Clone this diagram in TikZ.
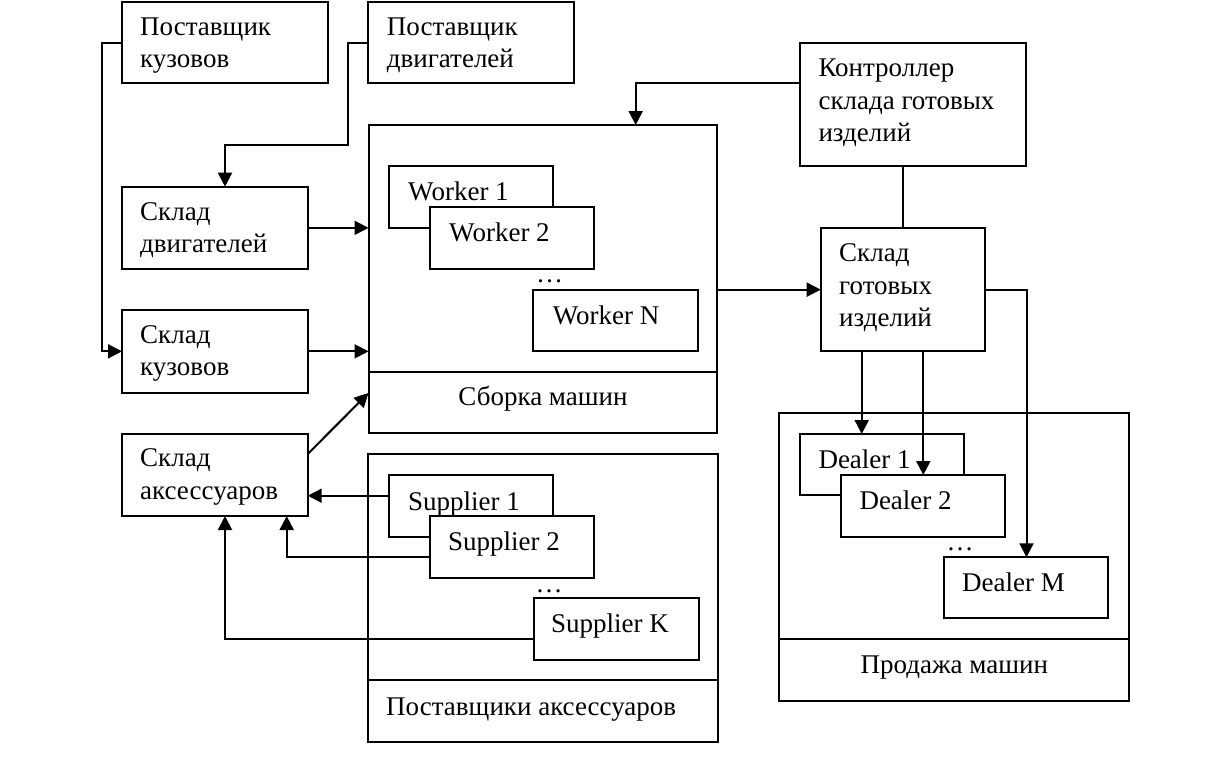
\documentclass[tikz,border=0pt]{standalone}
\usepackage{fontspec}
\setmainfont{Liberation Serif}
\usetikzlibrary{arrows.meta,calc}
\newcommand{\ml}[1]{\begin{tabular}[t]{@{}l@{}}#1\end{tabular}}
\begin{document}
\begin{tikzpicture}[x=1pt,y=-1pt,
  box/.style={draw,line width=2pt,fill=white,inner sep=0pt,outer sep=0pt,anchor=north west},
  lbl/.style={anchor=base west,inner sep=0pt,font=\fontsize{27}{32.5}\selectfont},
  clbl/.style={anchor=base,inner sep=0pt,font=\fontsize{27}{32.5}\selectfont},
  arr/.style={line width=2pt,-{Triangle[length=14pt,width=14pt]}},
  ln/.style={line width=2pt}]
\useasboundingbox[fill=white] (0,0) rectangle (1230,772);

% outer boxes
\node[box,minimum width=206,minimum height=81.6] (pk) at (122,1.7) {};
\node[box,minimum width=206,minimum height=81.6] (pd) at (368,1.7) {};
\node[box,minimum width=226,minimum height=123.3] (kc) at (800,42.7) {};
\node[box,minimum width=185.7,minimum height=82.3] (sd) at (122,186.7) {};
\node[box,minimum width=185.7,minimum height=82.7] (sk) at (122,310) {};
\node[box,minimum width=185.7,minimum height=82] (sa) at (122,434) {};
\node[box,minimum width=164.3,minimum height=122.7] (sg) at (820.7,228.3) {};

% containers
\node[box,minimum width=348.8,minimum height=308.3] (sb) at (368.5,125) {};
\draw[ln] ($(sb.south west)+(0,-61.6)$) -- ($(sb.south east)+(0,-61.6)$);
\node[box,minimum width=349.7,minimum height=288] (pa) at (368.3,454) {};
\draw[ln] ($(pa.south west)+(0,-62)$) -- ($(pa.south east)+(0,-62)$);
\node[box,minimum width=350,minimum height=287.7] (ps) at (779.3,413.3) {};
\draw[ln] ($(ps.south west)+(0,-61.7)$) -- ($(ps.south east)+(0,-61.7)$);

% inner boxes
\node[box,minimum width=164.3,minimum height=61.7] (w1) at (389,166) {};
\node[box,minimum width=164.3,minimum height=61.7] (w2) at (430,207.3) {};
\node[box,minimum width=165.3,minimum height=61] (wn) at (532.7,290) {};
\node[box,minimum width=164.3,minimum height=61.7] (s1) at (389,475) {};
\node[box,minimum width=164.3,minimum height=61.7] (s2) at (430,516) {};
\node[box,minimum width=165,minimum height=61.7] (sK) at (533.5,598.3) {};
\node[box,minimum width=164.3,minimum height=61.3] (d1) at (800,434) {};
\node[box,minimum width=164,minimum height=61.7] (d2) at (841,475) {};
\node[box,minimum width=164.6,minimum height=61] (dm) at (943.7,557.3) {};

% texts
\node[lbl] (tpk) at (140,35) {\ml{Поставщик\\кузовов}};
\node[lbl] (tpd) at (386.7,35) {\ml{Поставщик\\двигателей}};
\node[lbl] (tkc) at (818.3,76.7) {\ml{Контроллер\\склада готовых\\изделий}};
\node[lbl] (tsd) at (140,220) {\ml{Склад\\двигателей}};
\node[lbl] (tsk) at (140,343.3) {\ml{Склад\\кузовов}};
\node[lbl] (tsa) at (140,466.7) {\ml{Склад\\аксессуаров}};
\node[lbl] (tsg) at (839,261.7) {\ml{Склад\\готовых\\изделий}};
\node[lbl] (tw1) at (408,200) {Worker 1};
\node[lbl] (tw2) at (449,241.7) {Worker 2};
\node[lbl] (twn) at (552.7,324) {Worker N};
\node[lbl] (ts1) at (408,510) {Supplier 1};
\node[lbl] (ts2) at (448,550) {Supplier 2};
\node[lbl] (tsK) at (551,632) {Supplier K};
\node[lbl] (td1) at (818.3,468) {Dealer 1};
\node[lbl] (td2) at (859.3,509.3) {Dealer 2};
\node[lbl] (tdm) at (962,591.7) {Dealer M};
\node[clbl] (tsb) at (543,405) {Сборка машин};
\node[clbl] (tps) at (954.3,673) {Продажа машин};
\node[lbl] (tpa) at (386,715) {Поставщики аксессуаров};
\node[clbl] (dw) at (549.5,282) {…};
\node[clbl] (ds) at (549,592) {…};
\node[clbl] (dd) at (960,550) {…};

% connectors
\draw[arr] (pk.west) -- ++(-19.7,0) |- (sk.west);
\draw[arr] (pd.west) -- ++(-20,0) |- ($(sd.north west)+(103,-41.7)$) -- ($(sd.north west)+(103,0)$);
\draw[arr] (sd.east) -- (sd.east -| sb.west);
\draw[arr] (sk.east) -- (sk.east -| sb.west);
\draw[arr] ($(sa.north east)+(0,20)$) -- ($(sb.south west)+(0,-40.3)$);
\coordinate (s1o) at ($(s1.north west)+(0,20.7)$);
\draw[arr] (s1o) -- (s1o -| sa.east);
\coordinate (s2o) at ($(s2.north west)+(0,40.7)$);
\draw[arr] (s2o) -| ($(sa.south west)+(164.7,0)$);
\coordinate (sKo) at ($(sK.north west)+(0,41)$);
\draw[arr] (sKo) -| ($(sa.south west)+(103,0)$);
\coordinate (kco) at ($(kc.north west)+(0,40.6)$);
\draw[arr] (kco) -| ($(sb.north west)+(267.2,0)$);
\draw[ln] (kc.south -| sg.north) -- (sg.north);
\draw[arr] (sg.west -| sb.east) -- (sg.west);
\coordinate (g1) at ($(sg.south west)+(41,0)$);
\draw[arr] (g1) -- (g1 |- d1.north);
\coordinate (g2) at ($(sg.south west)+(102.6,0)$);
\draw[arr] (g2) -- (g2 |- d2.north);
\draw[arr] (sg.east) -| ($(dm.north west)+(82.8,0)$);
\end{tikzpicture}
\end{document}
